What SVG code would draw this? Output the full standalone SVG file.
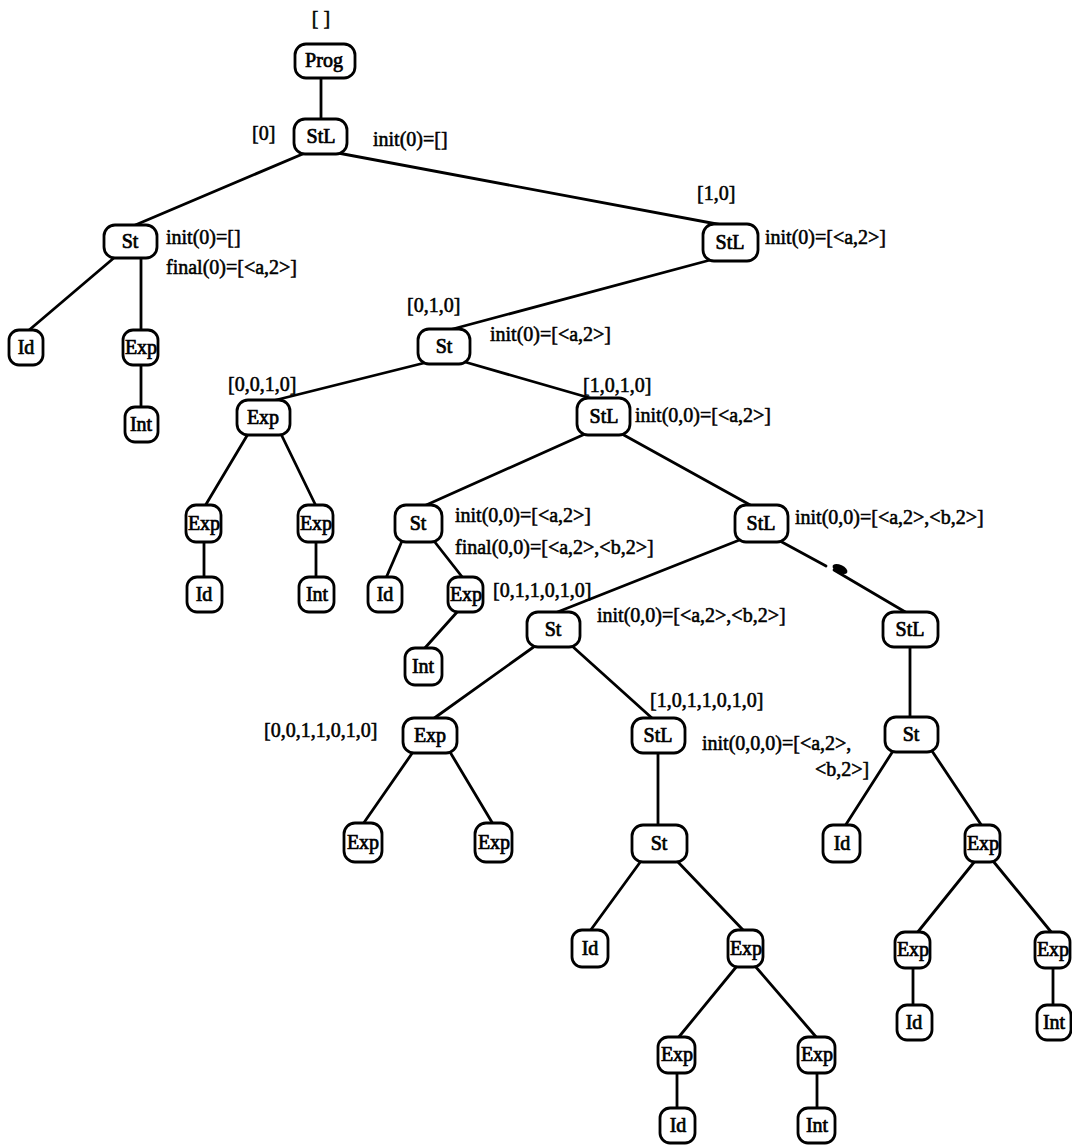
<svg xmlns="http://www.w3.org/2000/svg" width="1072" height="1145" viewBox="0 0 1072 1145">
  <style>
    .bg { fill: #ffffff; }
    .node rect { fill: #ffffff; stroke: #000000; stroke-width: 2.8; }
    .node text { font-family: "Liberation Serif", "Times New Roman", serif; font-size: 20px; fill: #000000; stroke: #000000; stroke-width: 0.7; text-anchor: middle; }
    .edges line { stroke: #000000; stroke-width: 2.8; stroke-linecap: round; }
    .lbl { font-family: "Liberation Serif", "Times New Roman", serif; font-size: 20px; fill: #000000; stroke: #000000; stroke-width: 0.55; }
    .mid { text-anchor: middle; }
  </style>
  <rect class="bg" x="0" y="0" width="1072" height="1145"/>

  <!-- connectors (drawn first so node boxes sit on top) -->
  <g id="edges" class="edges">
    <line x1="321" y1="78" x2="321" y2="119"/>
    <line x1="305" y1="153" x2="133" y2="226"/>
    <line x1="338" y1="153" x2="722" y2="225"/>
    <line x1="115" y1="257" x2="28" y2="331"/>
    <line x1="141" y1="258" x2="141" y2="330"/>
    <line x1="141" y1="365" x2="141" y2="407"/>
    <line x1="714" y1="259" x2="449" y2="330"/>
    <line x1="424" y1="363" x2="272" y2="401"/>
    <line x1="465" y1="362" x2="590" y2="398"/>
    <line x1="248" y1="434" x2="205" y2="506"/>
    <line x1="281" y1="434" x2="316" y2="506"/>
    <line x1="204" y1="542" x2="204" y2="577"/>
    <line x1="316" y1="542" x2="316" y2="577"/>
    <line x1="585" y1="434" x2="424" y2="506"/>
    <line x1="622" y1="434" x2="752" y2="506"/>
    <line x1="402" y1="541" x2="386" y2="578"/>
    <line x1="434" y1="541" x2="463" y2="578"/>
    <line x1="458" y1="611" x2="424" y2="649"/>
    <line x1="742" y1="539" x2="555" y2="613"/>
    <line x1="780" y1="541" x2="826" y2="566"/>
    <line x1="834" y1="570" x2="907" y2="613"/>
    <ellipse cx="840" cy="569" rx="8" ry="4" transform="rotate(25 840 569)" fill="#000000"/>
    <line x1="535" y1="646" x2="433" y2="719"/>
    <line x1="572" y1="646" x2="653" y2="719"/>
    <line x1="910" y1="647" x2="910" y2="717"/>
    <line x1="413" y1="752" x2="363" y2="824"/>
    <line x1="450" y1="752" x2="493" y2="824"/>
    <line x1="658" y1="753" x2="658" y2="825"/>
    <line x1="641" y1="861" x2="590" y2="931"/>
    <line x1="677" y1="861" x2="744" y2="931"/>
    <line x1="737" y1="966" x2="678" y2="1038"/>
    <line x1="755" y1="966" x2="817" y2="1038"/>
    <line x1="677" y1="1073" x2="677" y2="1108"/>
    <line x1="817" y1="1073" x2="817" y2="1108"/>
    <line x1="893" y1="751" x2="845" y2="826"/>
    <line x1="932" y1="751" x2="982" y2="826"/>
    <line x1="975" y1="861" x2="917" y2="933"/>
    <line x1="993" y1="861" x2="1052" y2="933"/>
    <line x1="913" y1="968" x2="913" y2="1005"/>
    <line x1="1053" y1="968" x2="1053" y2="1005"/>
  </g>

  <!-- tree nodes -->
  <g id="n-prog" class="node"><rect x="295" y="44" width="60" height="34" rx="11"/><text x="324" y="67">Prog</text></g>
  <g id="n-stl-0" class="node"><rect x="294" y="119" width="53" height="35" rx="11"/><text x="321" y="143">StL</text></g>
  <g id="n-st-a" class="node"><rect x="104" y="225" width="53" height="33" rx="11"/><text x="130" y="248">St</text></g>
  <g id="n-id-a" class="node"><rect x="9" y="330" width="34" height="35" rx="10"/><text x="26" y="354">Id</text></g>
  <g id="n-exp-a" class="node"><rect x="123" y="330" width="35" height="35" rx="10"/><text x="141" y="354">Exp</text></g>
  <g id="n-int-a" class="node"><rect x="125" y="407" width="33" height="35" rx="10"/><text x="141" y="431">Int</text></g>

  <g id="n-stl-10" class="node"><rect x="703" y="224" width="55" height="37" rx="11"/><text x="730" y="249">StL</text></g>
  <g id="n-st-010" class="node"><rect x="418" y="329" width="52" height="35" rx="11"/><text x="444" y="353">St</text></g>
  <g id="n-exp-0010" class="node"><rect x="237" y="400" width="53" height="35" rx="11"/><text x="263" y="424">Exp</text></g>
  <g id="n-exp-b1" class="node"><rect x="186" y="505" width="35" height="37" rx="10"/><text x="204" y="530">Exp</text></g>
  <g id="n-exp-b2" class="node"><rect x="298" y="505" width="35" height="37" rx="10"/><text x="316" y="530">Exp</text></g>
  <g id="n-id-b" class="node"><rect x="187" y="577" width="35" height="35" rx="10"/><text x="204" y="601">Id</text></g>
  <g id="n-int-b" class="node"><rect x="299" y="577" width="35" height="35" rx="10"/><text x="317" y="601">Int</text></g>

  <g id="n-stl-1010" class="node"><rect x="577" y="398" width="53" height="37" rx="11"/><text x="604" y="423">StL</text></g>
  <g id="n-st-c" class="node"><rect x="395" y="505" width="47" height="37" rx="11"/><text x="418" y="530">St</text></g>
  <g id="n-id-c" class="node"><rect x="368" y="577" width="34" height="35" rx="10"/><text x="385" y="601">Id</text></g>
  <g id="n-exp-c" class="node"><rect x="448" y="577" width="35" height="35" rx="10"/><text x="466" y="601">Exp</text></g>
  <g id="n-int-c" class="node"><rect x="405" y="648" width="37" height="37" rx="10"/><text x="423" y="673">Int</text></g>

  <g id="n-stl-d" class="node"><rect x="735" y="505" width="53" height="37" rx="11"/><text x="761" y="530">StL</text></g>
  <g id="n-st-011010" class="node"><rect x="527" y="612" width="53" height="35" rx="11"/><text x="553" y="636">St</text></g>
  <g id="n-exp-0011010" class="node"><rect x="403" y="718" width="54" height="35" rx="11"/><text x="430" y="742">Exp</text></g>
  <g id="n-exp-e1" class="node"><rect x="344" y="823" width="38" height="39" rx="11"/><text x="363" y="849">Exp</text></g>
  <g id="n-exp-e2" class="node"><rect x="475" y="823" width="37" height="39" rx="11"/><text x="494" y="849">Exp</text></g>

  <g id="n-stl-1011010" class="node"><rect x="632" y="718" width="53" height="35" rx="11"/><text x="658" y="742">StL</text></g>
  <g id="n-st-f" class="node"><rect x="632" y="825" width="55" height="37" rx="11"/><text x="659" y="850">St</text></g>
  <g id="n-id-f" class="node"><rect x="572" y="930" width="36" height="37" rx="10"/><text x="590" y="955">Id</text></g>
  <g id="n-exp-f" class="node"><rect x="728" y="930" width="35" height="37" rx="10"/><text x="746" y="955">Exp</text></g>
  <g id="n-exp-f1" class="node"><rect x="658" y="1037" width="37" height="36" rx="10"/><text x="677" y="1061">Exp</text></g>
  <g id="n-exp-f2" class="node"><rect x="798" y="1037" width="37" height="36" rx="10"/><text x="817" y="1061">Exp</text></g>
  <g id="n-id-f1" class="node"><rect x="660" y="1108" width="35" height="35" rx="10"/><text x="678" y="1132">Id</text></g>
  <g id="n-int-f2" class="node"><rect x="798" y="1108" width="37" height="35" rx="10"/><text x="817" y="1132">Int</text></g>

  <g id="n-stl-g" class="node"><rect x="883" y="612" width="55" height="35" rx="11"/><text x="910" y="636">StL</text></g>
  <g id="n-st-g" class="node"><rect x="885" y="717" width="53" height="35" rx="11"/><text x="911" y="741">St</text></g>
  <g id="n-id-g" class="node"><rect x="823" y="825" width="37" height="37" rx="10"/><text x="842" y="850">Id</text></g>
  <g id="n-exp-g" class="node"><rect x="965" y="825" width="35" height="37" rx="10"/><text x="983" y="850">Exp</text></g>
  <g id="n-exp-g1" class="node"><rect x="895" y="932" width="35" height="36" rx="10"/><text x="913" y="956">Exp</text></g>
  <g id="n-exp-g2" class="node"><rect x="1035" y="932" width="35" height="36" rx="10"/><text x="1053" y="956">Exp</text></g>
  <g id="n-id-g1" class="node"><rect x="897" y="1005" width="35" height="35" rx="10"/><text x="914" y="1029">Id</text></g>
  <g id="n-int-g2" class="node"><rect x="1037" y="1005" width="34" height="35" rx="10"/><text x="1054" y="1029">Int</text></g>

  <!-- path labels and attribute annotations -->
  <g id="labels">
    <text class="lbl mid" x="321" y="25">[ ]</text>
    <text class="lbl" x="252" y="140">[0]</text>
    <text class="lbl" x="373" y="146">init(0)=[]</text>
    <text class="lbl" x="166" y="244">init(0)=[]</text>
    <text class="lbl" x="166" y="274">final(0)=[&lt;a,2&gt;]</text>
    <text class="lbl" x="697" y="200">[1,0]</text>
    <text class="lbl" x="765" y="244">init(0)=[&lt;a,2&gt;]</text>
    <text class="lbl" x="407" y="312">[0,1,0]</text>
    <text class="lbl" x="490" y="341">init(0)=[&lt;a,2&gt;]</text>
    <text class="lbl" x="228" y="391">[0,0,1,0]</text>
    <text class="lbl" x="583" y="392">[1,0,1,0]</text>
    <text class="lbl" x="635" y="422">init(0,0)=[&lt;a,2&gt;]</text>
    <text class="lbl" x="455" y="522">init(0,0)=[&lt;a,2&gt;]</text>
    <text class="lbl" x="455" y="554">final(0,0)=[&lt;a,2&gt;,&lt;b,2&gt;]</text>
    <text class="lbl" x="795" y="524">init(0,0)=[&lt;a,2&gt;,&lt;b,2&gt;]</text>
    <text class="lbl" x="493" y="597">[0,1,1,0,1,0]</text>
    <text class="lbl" x="597" y="622">init(0,0)=[&lt;a,2&gt;,&lt;b,2&gt;]</text>
    <text class="lbl" x="650" y="707">[1,0,1,1,0,1,0]</text>
    <text class="lbl" x="264" y="737">[0,0,1,1,0,1,0]</text>
    <text class="lbl" x="702" y="750">init(0,0,0)=[&lt;a,2&gt;,</text>
    <text class="lbl" x="815" y="776">&lt;b,2&gt;]</text>
  </g>
</svg>
